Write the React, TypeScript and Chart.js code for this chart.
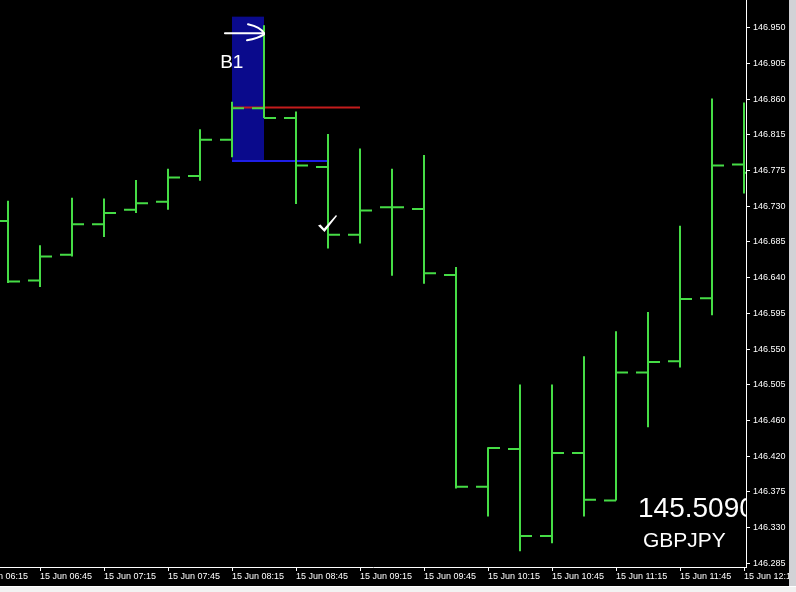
import { useEffect, useRef } from "react";
import { Chart, registerables } from "chart.js";

Chart.register(...registerables);

// ---- data ----
const symbol = "GBPJPY";
const priceLabel = "145.5090";
const barTimes = [
  "06:30", "06:45", "07:00", "07:15", "07:30", "07:45", "08:00", "08:15",
  "08:30", "08:45", "09:00", "09:15", "09:30", "09:45", "10:00", "10:15",
  "10:30", "10:45", "11:00", "11:15", "11:30", "11:45", "12:00", "12:15",
];
const opens = [
  146.710, 146.636, 146.668, 146.706, 146.724, 146.734, 146.766, 146.811,
  146.850, 146.838, 146.777, 146.693, 146.727, 146.725, 146.643, 146.380,
  146.427, 146.319, 146.422, 146.363, 146.522, 146.536, 146.614, 146.780,
];
const highs = [
  146.735, 146.680, 146.739, 146.738, 146.761, 146.775, 146.824, 146.858,
  146.953, 146.846, 146.818, 146.800, 146.775, 146.792, 146.653, 146.429,
  146.507, 146.507, 146.542, 146.573, 146.597, 146.704, 146.862, 146.857,
];
const lows = [
  146.633, 146.628, 146.666, 146.690, 146.720, 146.724, 146.760, 146.789,
  146.838, 146.731, 146.676, 146.682, 146.642, 146.632, 146.378, 146.343,
  146.300, 146.310, 146.343, 146.363, 146.454, 146.528, 146.593, 146.744,
];
const closes = [
  146.635, 146.666, 146.706, 146.720, 146.732, 146.764, 146.811, 146.850,
  146.838, 146.779, 146.693, 146.723, 146.727, 146.645, 146.380, 146.428,
  146.319, 146.422, 146.364, 146.522, 146.535, 146.613, 146.779, 146.770,
];

const xTickIndex = [-1, 1, 3, 5, 7, 9, 11, 13, 15, 17, 19, 21, 23];
const xTickLabels = [
  "15 Jun 06:15", "15 Jun 06:45", "15 Jun 07:15", "15 Jun 07:45", "15 Jun 08:15",
  "15 Jun 08:45", "15 Jun 09:15", "15 Jun 09:45", "15 Jun 10:15", "15 Jun 10:45",
  "15 Jun 11:15", "15 Jun 11:45", "15 Jun 12:15",
];
const yTickLabels = [
  "146.950", "146.905", "146.860", "146.815", "146.775", "146.730", "146.685", "146.640",
  "146.595", "146.550", "146.505", "146.460", "146.420", "146.375", "146.330", "146.285",
];
const yTickTop = 146.95;
const yTickBottom = 146.285;

// trade annotations
const zoneFrom = 7;
const zoneTo = 8;
const zoneTop = 146.9637;
const zoneBottom = 146.7836;
const entryPrice = 146.851;
const entryFrom = 7;
const entryTo = 11;
const stopPrice = 146.7845;
const stopFrom = 7;
const stopTo = 10;
const arrowFrom = 6.78;
const arrowTo = 8;
const arrowPrice = 146.943;
const tradeLabel = "B1";
const tradeLabelIndex = 6.63;
const tradeLabelPrice = 146.9;
const checkIndex = 9.875;
const checkPrice = 146.697;

// view range
const xMin = -0.25;
const xMax = 23.0625;
const yMin = 146.28039;
const yMax = 146.98439;

const TICK = 0.375;
const GREEN = "#46dc46";
const FONT = "'Liberation Sans', Arial, sans-serif";

function buildOhlcSegments() {
  const pts: { x: number; y: number | null }[] = [];
  for (let i = 0; i < barTimes.length; i++) {
    pts.push({ x: i, y: lows[i] }, { x: i, y: highs[i] }, { x: i, y: null });
    pts.push({ x: i - TICK, y: opens[i] }, { x: i, y: opens[i] }, { x: i, y: null });
    pts.push({ x: i, y: closes[i] }, { x: i + TICK, y: closes[i] }, { x: i + TICK, y: null });
  }
  return pts;
}

function zeroPadding(scale: any) {
  scale.paddingLeft = 0;
  scale.paddingRight = 0;
  scale.paddingTop = 0;
  scale.paddingBottom = 0;
}

const annotationPlugin = {
  id: "mtAnnotations",
  beforeDraw(chart: any) {
    const ctx = chart.ctx;
    ctx.save();
    ctx.fillStyle = "#000000";
    ctx.fillRect(0, 0, chart.width, chart.height);
    ctx.restore();
  },
  beforeDatasetsDraw(chart: any) {
    const { ctx, chartArea } = chart;
    const x = chart.scales.x;
    const y = chart.scales.y;
    ctx.save();
    ctx.beginPath();
    ctx.rect(chartArea.left, chartArea.top, chartArea.right - chartArea.left, chartArea.bottom - chartArea.top);
    ctx.clip();
    const x1 = x.getPixelForValue(zoneFrom);
    const x2 = x.getPixelForValue(zoneTo);
    const y1 = y.getPixelForValue(zoneTop);
    const y2 = y.getPixelForValue(zoneBottom);
    ctx.fillStyle = "#0a0a8c";
    ctx.fillRect(x1, y1, x2 - x1, y2 - y1);
    ctx.restore();
  },
  afterDatasetsDraw(chart: any) {
    const { ctx, chartArea } = chart;
    const x = chart.scales.x;
    const y = chart.scales.y;
    ctx.save();
    ctx.beginPath();
    ctx.rect(chartArea.left, chartArea.top, chartArea.right - chartArea.left, chartArea.bottom - chartArea.top);
    ctx.clip();

    // arrow
    const ax1 = x.getPixelForValue(arrowFrom);
    const ax2 = x.getPixelForValue(arrowTo);
    const ay = y.getPixelForValue(arrowPrice);
    ctx.strokeStyle = "#ffffff";
    ctx.lineWidth = 2;
    ctx.lineCap = "round";
    ctx.beginPath();
    ctx.moveTo(ax1, ay);
    ctx.lineTo(ax2, ay);
    ctx.stroke();
    ctx.beginPath();
    ctx.moveTo(ax2 - 16, ay - 9);
    ctx.quadraticCurveTo(ax2 - 3, ay - 6, ax2, ay);
    ctx.stroke();
    ctx.beginPath();
    ctx.moveTo(ax2, ay + 1);
    ctx.quadraticCurveTo(ax2 - 6, ay + 5, ax2 - 17, ay + 7);
    ctx.stroke();

    // trade label
    ctx.fillStyle = "#ffffff";
    ctx.font = `19px ${FONT}`;
    ctx.textBaseline = "alphabetic";
    ctx.textAlign = "left";
    ctx.fillText(tradeLabel, x.getPixelForValue(tradeLabelIndex), y.getPixelForValue(tradeLabelPrice));

    // check mark
    const cx = x.getPixelForValue(checkIndex);
    const cy = y.getPixelForValue(checkPrice);
    ctx.beginPath();
    ctx.moveTo(cx - 6, cy - 6);
    ctx.lineTo(cx - 3.5, cy - 7);
    ctx.lineTo(cx, cy - 3);
    ctx.lineTo(cx + 12, cy - 16.5);
    ctx.lineTo(cx + 13, cy - 15.5);
    ctx.lineTo(cx + 0.5, cy + 0.5);
    ctx.closePath();
    ctx.fill();

    // symbol / price labels (corner-anchored)
    ctx.font = `28px ${FONT}`;
    ctx.fillText(priceLabel, chartArea.right - 108, chartArea.bottom - 50);
    ctx.font = `21px ${FONT}`;
    ctx.fillText(symbol, chartArea.right - 103, chartArea.bottom - 20);
    ctx.restore();
  },
  afterDraw(chart: any) {
    const ctx = chart.ctx;
    ctx.save();
    ctx.fillStyle = "#d2d2d6";
    ctx.fillRect(chart.width - 7, 0, 7, chart.height);
    ctx.fillStyle = "#f2f2f2";
    ctx.fillRect(0, chart.height - 6, chart.width, 6);
    ctx.fillStyle = "#ffffff";
    ctx.fillRect(0, chart.height - 6, chart.width, 1);
    ctx.restore();
  },
};

export default function App() {
  const ref = useRef<HTMLCanvasElement | null>(null);

  useEffect(() => {
    document.body.style.margin = "0";
    document.body.style.background = "#000";
    const canvas = ref.current;
    if (!canvas) return;
    const yStep = (yTickTop - yTickBottom) / (yTickLabels.length - 1);
    const chart = new Chart(canvas, {
      type: "line",
      data: {
        datasets: [
          {
            data: buildOhlcSegments() as any,
            borderColor: GREEN,
            borderWidth: 2,
            pointRadius: 0,
            spanGaps: false,
            clip: 0,
            tension: 0,
          },
          {
            data: [
              { x: entryFrom, y: entryPrice },
              { x: entryTo, y: entryPrice },
            ],
            borderColor: "#c41c1c",
            borderWidth: 2,
            pointRadius: 0,
            clip: 0,
          },
          {
            data: [
              { x: stopFrom, y: stopPrice },
              { x: stopTo, y: stopPrice },
            ],
            borderColor: "#1e1ee6",
            borderWidth: 2,
            pointRadius: 0,
            clip: 0,
          },
        ],
      },
      options: {
        responsive: false,
        animation: false,
        devicePixelRatio: 1,
        events: [],
        layout: { padding: 0, autoPadding: false },
        plugins: {
          legend: { display: false },
          tooltip: { enabled: false },
          title: { display: false },
        },
        scales: {
          x: {
            type: "linear",
            min: xMin,
            max: xMax,
            position: "bottom",
            afterBuildTicks(scale: any) {
              scale.ticks = xTickIndex.map((v) => ({ value: v }));
            },
            afterFit(scale: any) {
              scale.height = 25;
              zeroPadding(scale);
            },
            grid: {
              drawOnChartArea: false,
              drawTicks: true,
              tickLength: 4,
              color: "#ffffff",
              lineWidth: 1,
            },
            border: { display: true, color: "#ffffff", width: 1 },
            ticks: {
              autoSkip: false,
              maxRotation: 0,
              minRotation: 0,
              align: "start",
              padding: 0,
              color: "#ffffff",
              font: { family: FONT, size: 9 },
              callback: (_v: any, i: number) => xTickLabels[i],
            },
          },
          y: {
            type: "linear",
            position: "right",
            min: yMin,
            max: yMax,
            afterBuildTicks(scale: any) {
              scale.ticks = yTickLabels.map((_l, i) => ({ value: yTickTop - i * yStep }));
            },
            afterFit(scale: any) {
              scale.width = 50;
              zeroPadding(scale);
            },
            grid: {
              drawOnChartArea: false,
              drawTicks: true,
              tickLength: 4,
              color: "#ffffff",
              lineWidth: 1,
            },
            border: { display: true, color: "#ffffff", width: 1 },
            ticks: {
              autoSkip: false,
              padding: 3,
              color: "#ffffff",
              font: { family: FONT, size: 9 },
              callback: (_v: any, i: number) => yTickLabels[i],
            },
          },
        },
      },
      plugins: [annotationPlugin],
    } as any);
    return () => chart.destroy();
  }, []);

  return (
    <div style={{ position: "fixed", left: 0, top: 0, width: 796, height: 592, background: "#000" }}>
      <canvas ref={ref} width={796} height={592} style={{ display: "block" }} />
    </div>
  );
}
